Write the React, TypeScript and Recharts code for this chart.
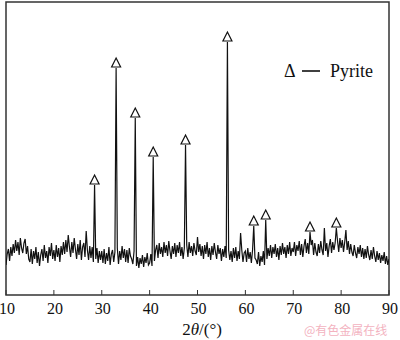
import React from "react";
import { ComposedChart, Line, Scatter, XAxis, YAxis, ReferenceArea } from "recharts";

// 2θ grid: 10.00 .. 90.00 in steps of 0.25°
const twoThetaStart = 10;
const twoThetaStep = 0.25;

// background intensity, 40 values per 10° range
const bg10to20 = [30, 41, 46, 34, 48, 39, 51, 42, 55, 44, 53, 40, 57, 47, 42, 52, 56, 41, 49, 36, 33, 46, 31, 44, 36, 48, 32, 43, 29, 40, 46, 34, 50, 37, 44, 32, 48, 39, 52, 36];
const bg20to30 = [45, 34, 50, 38, 47, 33, 49, 40, 53, 41, 55, 43, 60, 48, 38, 53, 42, 57, 46, 36, 51, 40, 55, 35, 48, 52, 38, 64, 45, 35, 49, 37, 48, 33, 44, 36, 47, 32, 44, 35];
const bg30to40 = [44, 32, 46, 31, 42, 34, 48, 30, 41, 45, 33, 43, 38, 47, 31, 44, 35, 49, 37, 46, 33, 45, 32, 47, 39, 36, 31, 44, 39, 29, 38, 27, 37, 31, 40, 28, 38, 32, 42, 30];
const bg40to50 = [32, 41, 29, 38, 34, 45, 50, 37, 52, 41, 48, 38, 53, 42, 50, 39, 54, 44, 36, 49, 41, 52, 38, 50, 42, 53, 39, 48, 36, 47, 43, 50, 38, 53, 42, 49, 39, 52, 44, 40];
const bg50to60 = [58, 43, 51, 39, 49, 36, 50, 41, 53, 38, 47, 35, 49, 40, 52, 43, 36, 50, 41, 47, 34, 46, 38, 49, 37, 43, 45, 35, 44, 33, 47, 37, 48, 34, 44, 36, 62, 45, 33, 42];
const bg60to70 = [44, 33, 47, 36, 43, 32, 45, 40, 37, 35, 31, 43, 29, 39, 33, 44, 30, 39, 36, 47, 39, 50, 37, 48, 41, 51, 38, 47, 35, 49, 40, 52, 41, 48, 37, 50, 41, 53, 39, 47];
const bg70to80 = [43, 53, 39, 50, 44, 54, 40, 51, 38, 49, 56, 42, 52, 41, 63, 50, 55, 40, 52, 43, 39, 51, 42, 54, 45, 40, 67, 44, 52, 38, 49, 56, 42, 53, 45, 52, 67, 54, 43, 57];
const bg80to90 = [47, 55, 43, 53, 65, 45, 54, 41, 51, 43, 39, 50, 42, 37, 48, 41, 50, 38, 47, 36, 46, 37, 49, 40, 35, 45, 36, 48, 39, 33, 44, 35, 42, 32, 40, 34, 43, 31, 39, 30, 36];

// pyrite diffraction peaks
const peakAngles = [28.5, 33.0, 37.0, 40.75, 47.5, 56.25, 61.75, 64.25, 73.5, 79.0];
const peakHeights = [110, 227, 177, 138, 150, 253, 69, 75, 63, 67];

const xTicks = [10, 20, 30, 40, 50, 60, 70, 80, 90];

const background = [
  ...bg10to20, ...bg20to30, ...bg30to40, ...bg40to50,
  ...bg50to60, ...bg60to70, ...bg70to80, ...bg80to90,
];

const pattern = background.map((v, i) => {
  const a = twoThetaStart + i * twoThetaStep;
  const k = peakAngles.findIndex((p) => Math.abs(p - a) < 1e-6);
  return { a, v: k >= 0 ? peakHeights[k] : v };
});

const peakTable = peakAngles.map((a, i) => ({ a, v: peakHeights[i] }));

const serif =
  '"Liberation Serif", "Times New Roman", Times, "Noto Serif", "Noto Serif CJK SC", "DejaVu Serif", FreeSerif, serif';
const serifStyle = { fontFamily: serif };

const Tick = (props: any) => {
  const { x, y, payload } = props;
  return (
    <g>
      <line x1={x} x2={x} y1={y} y2={y - 5} stroke="#333" strokeWidth={1} />
      <text x={x + 1} y={y + 19} textAnchor="middle" style={serifStyle} fontSize={16} fill="#111">
        {payload.value}
      </text>
    </g>
  );
};

const Tri = (p: any) => {
  const { cx, cy } = p;
  if (cx == null || cy == null) return null;
  return (
    <polygon
      points={`${cx - 4.5},${cy - 1} ${cx + 4.5},${cy - 1} ${cx},${cy - 10}`}
      fill="#fff"
      stroke="#111"
      strokeWidth={1.2}
    />
  );
};

export default function App() {
  return (
    <div style={{ position: "absolute", left: 0, top: 0, width: 400, height: 340, background: "#fff" }}>
      <ComposedChart width={400} height={340} data={pattern} margin={{ top: 2, right: 11, left: 6, bottom: 0 }}>
        <XAxis
          dataKey="a"
          type="number"
          domain={[10, 90]}
          ticks={xTicks}
          allowDataOverflow
          height={45}
          axisLine={false}
          tickLine={false}
          tickSize={0}
          tickMargin={0}
          tick={<Tick />}
          interval={0}
        />
        <YAxis dataKey="v" type="number" domain={[0, 293]} hide width={0} allowDataOverflow />
        <Line
          dataKey="v"
          type="linear"
          stroke="#111"
          strokeWidth={1.2}
          dot={false}
          isAnimationActive={false}
        />
        <Scatter data={peakTable} dataKey="v" shape={<Tri />} isAnimationActive={false} />
        <ReferenceArea x1={10} x2={90} y1={0} y2={293} fill="none" stroke="#333" strokeWidth={1.5} />
      </ComposedChart>
      <svg width={400} height={340} style={{ position: "absolute", left: 0, top: 0, pointerEvents: "none" }}>
        <text x={284} y={77} style={serifStyle} fontSize={18} fill="#111">Δ</text>
        <line x1={302} x2={320} y1={71} y2={71} stroke="#111" strokeWidth={1.6} />
        <text x={330} y={77} style={serifStyle} fontSize={18} fill="#111">Pyrite</text>
        <text x={202} y={335} textAnchor="middle" style={serifStyle} fontSize={17} fill="#111">
          2<tspan fontStyle="italic">θ</tspan>/(°)
        </text>
        <text x={304} y={335} style={{ fontFamily: "Noto Sans CJK SC, sans-serif" }} fontSize={12} fill="#f3b3bf">
          @有色金属在线
        </text>
      </svg>
    </div>
  );
}
